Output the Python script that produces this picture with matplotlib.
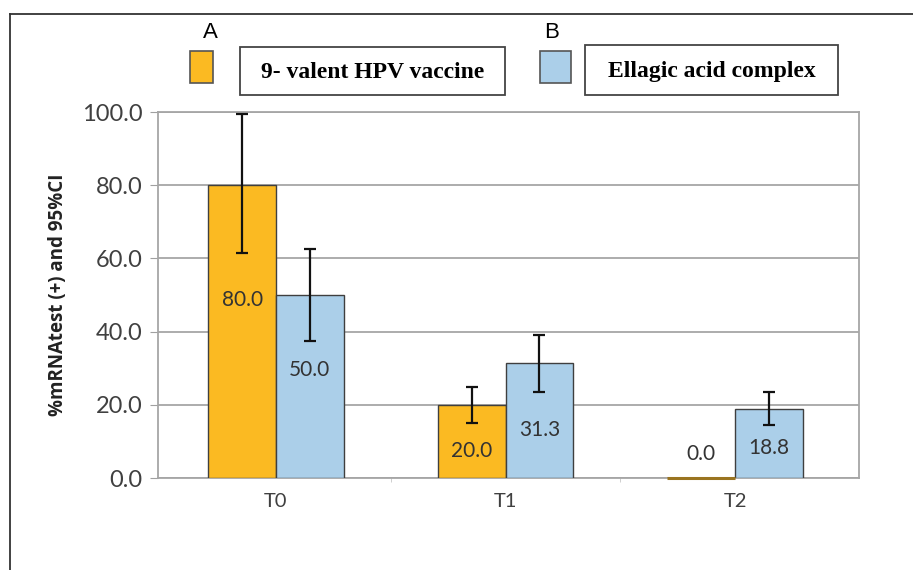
import matplotlib.pyplot as plt
import matplotlib.patches as mpatches
import numpy as np

## Data

groups = ["T0", "T1", "T2"]
vaccine = [80.0, 20.0, 0.0]
vaccine_lo = [61.5, 15.0, 0.0]
vaccine_hi = [99.5, 25.0, 0.0]
ellagic = [50.0, 31.3, 18.8]
ellagic_lo = [37.5, 23.5, 14.5]
ellagic_hi = [62.5, 39.0, 23.5]

# label heights (data units) as placed in the original
vaccine_label_y = [48.5, 7.5, 6.5]
ellagic_label_y = [29.5, 13.0, 8.3]

orange = "#FBBA22"
blue = "#ABCFE9"
edge = "#3f3f3f"
txt = "#404040"

fig = plt.figure(figsize=(9.13, 5.70), dpi=100)
ax = fig.add_axes([0.173, 0.1614, 0.768, 0.6421])

x = np.arange(len(groups))
w = 0.295

err_v = [np.array(vaccine) - np.array(vaccine_lo), np.array(vaccine_hi) - np.array(vaccine)]
err_e = [np.array(ellagic) - np.array(ellagic_lo), np.array(ellagic_hi) - np.array(ellagic)]

ax.bar(x - w / 2, vaccine, w, color=orange, edgecolor=edge, linewidth=1, zorder=3)
ax.bar(x + w / 2, ellagic, w, color=blue, edgecolor=edge, linewidth=1, zorder=3)

# zero-height bar still shows as a thin line at the baseline
zero = np.array(vaccine) == 0
ax.hlines(np.zeros(zero.sum()), (x - w)[zero], x[zero], colors="#9a7420", lw=2.2,
          zorder=4, clip_on=False)

show_v = ~zero
ax.errorbar((x - w / 2)[show_v], np.array(vaccine)[show_v],
            yerr=[err_v[0][show_v], err_v[1][show_v]],
            fmt="none", ecolor="#111111", elinewidth=1.6, capsize=4.5, capthick=1.6, zorder=4)
ax.errorbar(x + w / 2, ellagic, yerr=err_e,
            fmt="none", ecolor="#111111", elinewidth=1.6, capsize=4.5, capthick=1.6, zorder=4)

for xi, v, ly in zip(x - w / 2, vaccine, vaccine_label_y):
    ax.text(xi, ly, f"{v:.1f}", ha="center", va="center", fontsize=15,
            color="#333333", family="Lato", zorder=5)
for xi, v, ly in zip(x + w / 2, ellagic, ellagic_label_y):
    ax.text(xi, ly, f"{v:.1f}", ha="center", va="center", fontsize=15,
            color="#333333", family="Lato", zorder=5)

ax.set_xlim(-0.514, 2.54)
ax.set_ylim(0, 100)
ax.set_yticks(np.arange(0, 101, 20))
ax.set_yticklabels([f"{t:.1f}" for t in np.arange(0, 101, 20)], fontsize=17,
                   color=txt, family="Lato")
ax.set_xticks(x)
ax.set_xticklabels(groups, fontsize=14.5, color=txt, family="Lato")
ax.set_xticks([0.5, 1.5], minor=True)
ax.tick_params(axis="y", length=6, color="#a0a0a0", pad=5)
ax.tick_params(axis="x", which="major", length=0, pad=11)
ax.tick_params(axis="x", which="minor", length=3, color="#c8c8c8")

ax.grid(axis="y", color="#a6a6a6", linewidth=1.3, zorder=0)
for s in ax.spines.values():
    s.set_color("#a6a6a6")
    s.set_linewidth(1.3)

ax.set_ylabel("%mRNAtest (+) and 95%CI", fontsize=13.5, fontweight="bold",
              color="#222222", family="Open Sans", labelpad=10)

# outer frame (top and left)
fig.add_artist(plt.Line2D([10 / 913, 1], [1 - 14 / 570, 1 - 14 / 570], color="#333333", lw=1.3))
fig.add_artist(plt.Line2D([10 / 913, 10 / 913], [0, 1 - 14 / 570], color="#333333", lw=1.3))

# legend boxes
def fpx(px, py):
    return px / 913, 1 - py / 570

fig.text(*fpx(210, 32), "A", fontsize=16, ha="center", va="center", family="Liberation Sans")
fig.text(*fpx(552, 32), "B", fontsize=16, ha="center", va="center", family="Liberation Sans")

for (x0, y0, x1, y1, c) in [(190, 51, 213, 83, orange), (540, 51, 571, 83, blue)]:
    fig.add_artist(mpatches.Rectangle(fpx(x0, y1), (x1 - x0) / 913, (y1 - y0) / 570,
                                      facecolor=c, edgecolor="#555555", lw=1.2,
                                      transform=fig.transFigure))

for (x0, y0, x1, y1, label) in [(240, 47, 505, 95, "9- valent HPV vaccine"),
                                (585, 45, 838, 95, "Ellagic acid complex")]:
    fig.add_artist(mpatches.Rectangle(fpx(x0, y1), (x1 - x0) / 913, (y1 - y0) / 570,
                                      facecolor="white", edgecolor="#444444", lw=1.3,
                                      transform=fig.transFigure))
    fig.text(*fpx((x0 + x1) / 2, (y0 + y1) / 2 + 2), label, fontsize=17, fontweight="bold",
             ha="center", va="center", family="Liberation Serif")

fig.savefig("out.png", dpi=100)
